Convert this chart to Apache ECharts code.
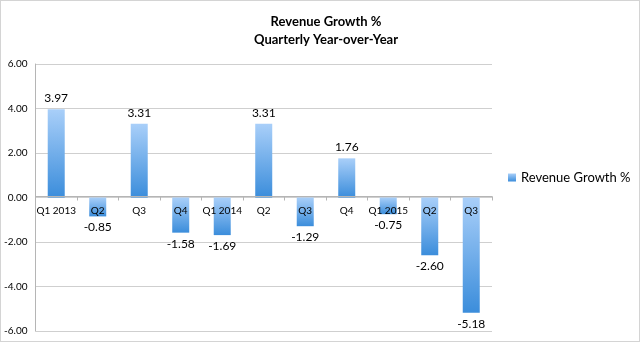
<!DOCTYPE html>
<html><head><meta charset="utf-8">
<script src="https://cdn.jsdelivr.net/npm/echarts@6/dist/echarts.min.js"></script>
<style>html,body{margin:0;padding:0;background:#fff}#c{width:640px;height:342px;box-sizing:border-box;border:1px solid #d4d4d4}</style>
</head><body><div id="c"></div>
<script>
const categories = ['Q1 2013','Q2','Q3','Q4','Q1 2014','Q2','Q3','Q4','Q1 2015','Q2','Q3'];
const growth = [3.97,-0.85,3.31,-1.58,-1.69,3.31,-1.29,1.76,-0.75,-2.60,-5.18];
const yTicks = {min:-6, max:6, interval:2};
const seriesName = 'Revenue Growth %';

const gridTop = 63, gridBottom = 10, H = 342;
const plotH = H - gridTop - gridBottom;
const zeroOffset = -plotH * (0 - yTicks.min) / (yTicks.max - yTicks.min);

const chart = echarts.init(document.getElementById('c'));
const grad = new echarts.graphic.LinearGradient(0,0,0,1,[{offset:0,color:'#a9cff9'},{offset:1,color:'#3b8ddb'}]);
chart.setOption({
  animation:false,
  title:{text:'Revenue Growth %\nQuarterly Year-over-Year',left:320,textAlign:'center',top:7,
    textStyle:{fontFamily:'Lato',fontSize:13,fontWeight:'bold',color:'#000',lineHeight:18}},
  legend:{orient:'vertical',left:502,top:165,itemWidth:8,itemHeight:8,itemGap:4,icon:'rect',
    textStyle:{fontFamily:'Lato',fontSize:13,color:'#000'},data:[{name:seriesName,itemStyle:{color:grad}}]},
  grid:{left:33,right:147,top:gridTop,bottom:gridBottom,containLabel:false},
  xAxis:{type:'category',data:categories,z:5,position:'bottom',offset:zeroOffset,
    axisLine:{onZero:false,lineStyle:{color:'#b5b5b5'}},
    axisTick:{show:true,length:4,lineStyle:{color:'#b5b5b5'},inside:false},
    axisLabel:{fontFamily:'Lato',fontSize:10,color:'#000',margin:9,interval:0}},
  yAxis:{type:'value',min:yTicks.min,max:yTicks.max,interval:yTicks.interval,
    axisLine:{show:true,lineStyle:{color:'#b5b5b5'}},axisTick:{show:false},
    splitLine:{lineStyle:{color:'#cfcfcf'}},
    axisLabel:{fontFamily:'Lato',fontSize:10,color:'#000',margin:8,formatter:v=>v.toFixed(2)}},
  series:[{name:seriesName,type:'bar',barWidth:17,z:2,
    itemStyle:{color:grad},
    data:growth.map(v=>({value:v,label:{position:v>=0?'top':'bottom'}})),
    label:{show:true,fontFamily:'Lato',fontSize:12,color:'#000',distance:5,formatter:p=>p.value.toFixed(2)}}]
});
</script></body></html>
